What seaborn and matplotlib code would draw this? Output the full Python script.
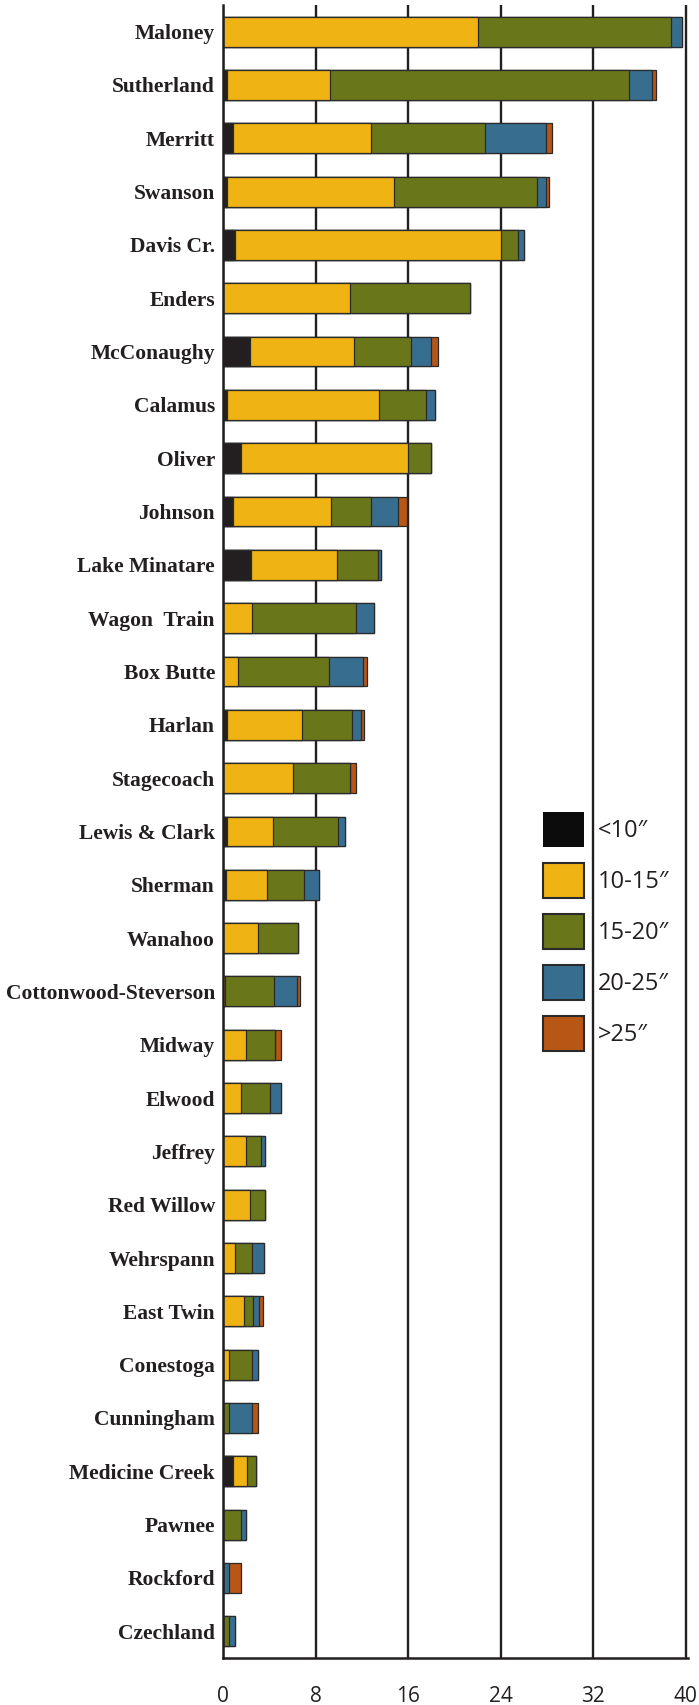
import pandas as pd
import numpy as np
import matplotlib
matplotlib.use("Agg")
import matplotlib.pyplot as plt
import seaborn as sns
from matplotlib.patches import Patch

# Lakes, top to bottom
lakes = ["Maloney", "Sutherland", "Merritt", "Swanson", "Davis Cr.", "Enders",
         "McConaughy", "Calamus", "Oliver", "Johnson", "Lake Minatare",
         "Wagon  Train", "Box Butte", "Harlan", "Stagecoach", "Lewis & Clark",
         "Sherman", "Wanahoo", "Cottonwood-Steverson", "Midway", "Elwood",
         "Jeffrey", "Red Willow", "Wehrspann", "East Twin", "Conestoga",
         "Cunningham", "Medicine Creek", "Pawnee", "Rockford", "Czechland"]

# Segment lengths per size class
lt10 = [0, 0.3, 0.8, 0.3, 1.0, 0, 2.3, 0.3, 1.5, 0.8, 2.4,
        0, 0, 0.3, 0, 0.3, 0.25, 0, 0, 0, 0,
        0, 0, 0, 0, 0, 0, 0.8, 0, 0, 0]
s10_15 = [22.0, 8.9, 12.0, 14.5, 23.0, 11.0, 9.0, 13.2, 14.5, 8.5, 7.4,
          2.5, 1.3, 6.5, 6.0, 4.0, 3.5, 3.0, 0.17, 2.0, 1.5,
          2.0, 2.3, 1.0, 1.75, 0.5, 0, 1.25, 0, 0, 0]
s15_20 = [16.7, 25.9, 9.8, 12.3, 1.5, 10.3, 4.9, 4.0, 2.0, 3.5, 3.6,
          9.0, 7.8, 4.3, 5.0, 5.6, 3.25, 3.5, 4.23, 2.5, 2.5,
          1.3, 1.3, 1.5, 0.85, 2.0, 0.5, 0.75, 1.5, 0, 0.5]
s20_25 = [1.0, 2.0, 5.3, 0.8, 0.5, 0, 1.8, 0.8, 0, 2.3, 0.2,
          1.5, 3.0, 0.8, 0, 0.6, 1.25, 0, 2.0, 0, 1.0,
          0.3, 0, 1.0, 0.5, 0.5, 2.0, 0, 0.5, 0.5, 0.5]
gt25 = [0, 0.3, 0.5, 0.3, 0, 0, 0.6, 0, 0, 0.8, 0,
        0, 0.3, 0.3, 0.5, 0, 0, 0, 0.2, 0.5, 0,
        0, 0, 0, 0.3, 0, 0.5, 0, 0, 1.0, 0]

classes = ["<10\u2033", "10-15\u2033", "15-20\u2033", "20-25\u2033", ">25\u2033"]
colors = ["#231f20", "#f0b314", "#69761a", "#376e8f", "#b85616"]
x_ticks = [0, 8, 16, 24, 32, 40]

df = pd.DataFrame({"lake": lakes, classes[0]: lt10, classes[1]: s10_15,
                   classes[2]: s15_20, classes[3]: s20_25, classes[4]: gt25})
cum = df[classes].cumsum(axis=1)
cum["lake"] = df["lake"]

sns.set_style("white")
dark = "#231f20"
sans = ["Open Sans", "DejaVu Sans"]

fig = plt.figure(figsize=(6.99, 17.05), dpi=100)
ax = fig.add_axes([0.3195, 0.0276, 0.9843 - 0.3195, 0.9971 - 0.0276])

# stacked bars: draw cumulative totals from the largest down
for cls, col in reversed(list(zip(classes, colors))):
    sns.barplot(data=cum, x=cls, y="lake", order=lakes, orient="h",
                color=col, saturation=1, width=0.56, errorbar=None,
                edgecolor="#2a2a2a", linewidth=0.9, ax=ax)

ax.set_xlim(0, 40.2)
ax.set_ylim(len(lakes) - 0.5, -0.5)
ax.set_xlabel("")
ax.set_ylabel("")
ax.set_xticks(x_ticks)
ax.set_xticklabels([str(t) for t in x_ticks], fontsize=15, family=sans, color=dark)
ax.set_yticks(range(len(lakes)))
ax.set_yticklabels(lakes, fontsize=15.5, family="Liberation Serif",
                   fontweight="bold", color=dark)
ax.tick_params(axis="x", length=0, pad=20)
ax.tick_params(axis="y", length=0, pad=6)

ax.set_axisbelow(True)
ax.xaxis.grid(True, color=dark, linewidth=1.7)
ax.yaxis.grid(False)
for side in ["top", "right"]:
    ax.spines[side].set_visible(False)
for side in ["left", "bottom"]:
    ax.spines[side].set_color(dark)
    ax.spines[side].set_linewidth(1.8)

handles = [Patch(facecolor="#0c0c0c", edgecolor="#0c0c0c", linewidth=0)]
handles += [Patch(facecolor=c, edgecolor="#2a2a2a", linewidth=1.5) for c in colors[1:]]
ax.legend(handles, classes, loc="upper left",
          bbox_to_anchor=(543 / 699, 1 - 812 / 1705), bbox_transform=fig.transFigure,
          frameon=False, borderpad=0, borderaxespad=0,
          handlelength=1.74, handleheight=1.9, labelspacing=0.68, handletextpad=0.6,
          prop={"family": sans, "size": 17}, labelcolor=dark)

fig.savefig("out.png", dpi=100)
